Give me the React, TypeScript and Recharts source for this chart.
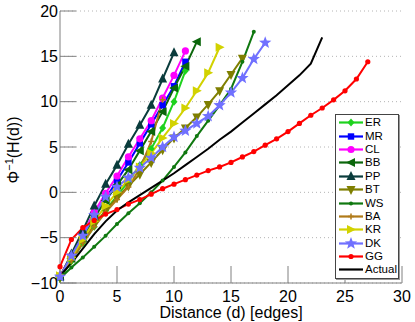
import { LineChart, Line, XAxis, YAxis, CartesianGrid, Legend } from 'recharts'

const FONT = '"Liberation Sans", Arial, sans-serif'
const AXIS_COLOR = '#808080'

const distance = [0, 1, 2, 3, 4, 5, 6, 7, 8, 9, 10, 11, 12, 13, 14, 15, 16, 17, 18, 19, 20, 21, 22, 23, 24, 25, 26, 27]
const xTicks = [0, 5, 10, 15, 20, 25, 30]
const yTicks = [-10, -5, 0, 5, 10, 15, 20]

const ER = [-9.5, -7.6, -5.6, -3.8, -2.0, -0.4, 1.2, 3.0, 4.8, 7.1, 10.0, 13.4]
const MR = [-9.3, -7.2, -5.0, -2.8, -0.7, 1.3, 3.3, 5.4, 7.5, 9.6, 11.7, 14.4]
const CL = [-9.2, -7.0, -4.6, -2.2, -0.1, 1.8, 3.9, 5.9, 7.9, 10.4, 12.9, 15.6]
const BB = [-9.3, -7.3, -5.0, -2.8, -0.9, 0.8, 2.5, 4.6, 6.7, 8.9, 11.5, 13.9, 16.6]
const PP = [-9.3, -6.8, -4.2, -1.5, 0.9, 3.0, 5.3, 7.4, 9.6, 12.5, 15.4]
const BT = [-9.4, -7.4, -5.4, -3.6, -2.0, -0.6, 0.7, 2.0, 3.3, 4.7, 6.0, 7.1, 8.3, 9.7, 11.2, 13.0, 14.8]
const WS = [-9.5, -8.3, -7.2, -6.0, -4.8, -3.5, -2.3, -1.2, 0.0, 1.3, 2.8, 4.4, 6.2, 7.9, 9.6, 11.4, 14.4, 17.7]
const BA = [-9.3, -7.5, -5.6, -3.8, -2.2, -0.8, 0.6, 2.6, 5.6, 10.2]
const KR = [-9.2, -7.2, -5.2, -3.2, -1.5, 0.0, 1.4, 2.8, 4.3, 6.0, 7.6, 9.3, 11.2, 13.2, 16.0]
const DK = [-9.3, -7.0, -4.8, -2.5, -0.5, 0.6, 1.6, 2.7, 3.8, 5.0, 6.1, 6.8, 7.6, 8.4, 9.6, 11.0, 12.6, 14.7, 16.5]
const GG = [-8.2, -5.2, -3.9, -3.1, -2.4, -1.9, -1.3, -0.8, -0.2, 0.4, 0.9, 1.4, 1.9, 2.4, 2.8, 3.3, 3.9, 4.5, 5.2, 5.9, 6.7, 7.6, 8.5, 9.3, 10.2, 11.2, 12.5, 14.4]
const Actual = [-9.2, -7.8, -6.2, -4.6, -3.2, -2.0, -1.1, -0.3, 0.5, 1.3, 2.1, 3.0, 3.9, 4.8, 5.8, 6.7, 7.7, 8.7, 9.7, 10.7, 11.8, 12.9, 14.2, 17.1]

type Shape = 'diamond' | 'square' | 'circle' | 'triLeft' | 'triUp' | 'triDown' | 'dot' | 'plus' | 'triRight' | 'star' | 'smallDot' | 'none'

const SERIES: { name: string; values: number[]; color: string; shape: Shape }[] = [
  { name: 'ER', values: ER, color: '#1ed21e', shape: 'diamond' },
  { name: 'MR', values: MR, color: '#0000ff', shape: 'square' },
  { name: 'CL', values: CL, color: '#ff00ff', shape: 'circle' },
  { name: 'BB', values: BB, color: '#0b660b', shape: 'triLeft' },
  { name: 'PP', values: PP, color: '#0a3c3c', shape: 'triUp' },
  { name: 'BT', values: BT, color: '#7f7f00', shape: 'triDown' },
  { name: 'WS', values: WS, color: '#107810', shape: 'smallDot' },
  { name: 'BA', values: BA, color: '#b07a18', shape: 'plus' },
  { name: 'KR', values: KR, color: '#d2d200', shape: 'triRight' },
  { name: 'DK', values: DK, color: '#7070ff', shape: 'star' },
  { name: 'GG', values: GG, color: '#ff0000', shape: 'dot' },
  { name: 'Actual', values: Actual, color: '#000000', shape: 'none' },
]

const tableData = distance.map((d, i) => {
  const row: Record<string, number | undefined> = { x: d }
  SERIES.forEach((s) => {
    row[s.name] = s.values[i]
  })
  return row
})

const fmtTick = (v: number) => String(v).replace('-', '\u2212')

function starPoints(cx: number, cy: number, r: number) {
  const pts: string[] = []
  for (let k = 0; k < 10; k++) {
    const rad = k % 2 === 0 ? r : r * 0.42
    const a = -Math.PI / 2 + (k * Math.PI) / 5
    pts.push(`${cx + rad * Math.cos(a)},${cy + rad * Math.sin(a)}`)
  }
  return pts.join(' ')
}

function Marker({ shape, color, cx, cy }: { shape: Shape; color: string; cx: number; cy: number }) {
  switch (shape) {
    case 'diamond':
      return <polygon points={`${cx},${cy - 4} ${cx + 3.5},${cy} ${cx},${cy + 4} ${cx - 3.5},${cy}`} fill={color} />
    case 'square':
      return <rect x={cx - 3.2} y={cy - 3.2} width={6.4} height={6.4} fill={color} />
    case 'circle':
      return <circle cx={cx} cy={cy} r={3.6} fill={color} />
    case 'triLeft':
      return <polygon points={`${cx - 5},${cy} ${cx + 4},${cy - 4.5} ${cx + 4},${cy + 4.5}`} fill={color} />
    case 'triUp':
      return <polygon points={`${cx},${cy - 5.5} ${cx + 4.5},${cy + 3.5} ${cx - 4.5},${cy + 3.5}`} fill={color} />
    case 'triDown':
      return <polygon points={`${cx},${cy + 5.5} ${cx + 4.5},${cy - 3.5} ${cx - 4.5},${cy - 3.5}`} fill={color} />
    case 'triRight':
      return <polygon points={`${cx + 5},${cy} ${cx - 4},${cy - 4.5} ${cx - 4},${cy + 4.5}`} fill={color} />
    case 'smallDot':
      return <circle cx={cx} cy={cy} r={2} fill={color} />
    case 'dot':
      return <circle cx={cx} cy={cy} r={2.6} fill={color} />
    case 'plus':
      return (
        <path d={`M${cx - 3},${cy}H${cx + 3}M${cx},${cy - 3}V${cy + 3}`} stroke={color} strokeWidth={1.5} />
      )
    case 'star':
      return <polygon points={starPoints(cx, cy, 6.5)} fill={color} />
    default:
      return null
  }
}

function makeDot(shape: Shape, color: string) {
  return (props: any) => {
    const { cx, cy, index } = props
    if (cx == null || cy == null || props.value == null) return <g key={index} />
    return (
      <g key={index}>
        <Marker shape={shape} color={color} cx={cx} cy={cy} />
      </g>
    )
  }
}

function LegendBox() {
  return (
    <div
      style={{
        width: 62,
        height: 162,
        border: '1px solid #444',
        background: '#fff',
        paddingTop: 1,
        fontFamily: FONT,
        boxShadow: '1px 1px 0 #999',
      }}
    >
      {SERIES.map((s) => (
        <div key={s.name} style={{ display: 'flex', alignItems: 'center', height: 13.4 }}>
          <svg width={29} height={13} style={{ display: 'block' }}>
            <line x1={3} x2={27} y1={6.5} y2={6.5} stroke={s.color} strokeWidth={2.2} />
            <Marker shape={s.shape} color={s.color} cx={15} cy={6.5} />
          </svg>
          <span style={{ fontSize: 11.5, lineHeight: '13px', color: '#000' }}>{s.name}</span>
        </div>
      ))}
    </div>
  )
}

function YLabel(props: any) {
  const vb = props.viewBox || { x: 0, y: 11, width: 60, height: 272 }
  const x = vb.x + 19
  const y = vb.y + vb.height / 2 + 3
  return (
    <text
      x={x}
      y={y}
      transform={`rotate(-90, ${x}, ${y})`}
      textAnchor="middle"
      fontSize={16}
      fontFamily={FONT}
      fill="#000"
    >
      Φ<tspan dy={-6} fontSize={11}>−1</tspan>
      <tspan dy={6}>(H(d))</tspan>
    </text>
  )
}

function XLabel(props: any) {
  const vb = props.viewBox || { x: 60, y: 283, width: 342, height: 39 }
  return (
    <text x={vb.x + vb.width / 2} y={318} textAnchor="middle" fontSize={16} fontFamily={FONT} fill="#000">
      Distance (d) [edges]
    </text>
  )
}

export default function App() {
  return (
    <div style={{ position: 'absolute', left: 0, top: 0, width: 415, height: 322, background: '#fff' }}>
      <LineChart
        width={415}
        height={322}
        data={tableData}
        margin={{ top: 11, right: 13, left: 0, bottom: 0 }}
        style={{ fontFamily: FONT }}
      >
        <CartesianGrid vertical={false} stroke="#b4b4b4" strokeDasharray="1 3" />
        <XAxis
          type="number"
          dataKey="x"
          domain={[0, 30]}
          ticks={xTicks}
          height={39}
          stroke={AXIS_COLOR}
          tickSize={-17}
          tickMargin={25}
          tick={{ fill: '#000', fontSize: 16, fontFamily: FONT }}
          label={{ content: XLabel }}
        />
        <YAxis
          type="number"
          domain={[-10, 20]}
          ticks={yTicks}
          width={60}
          stroke={AXIS_COLOR}
          tickSize={-16}
          tickMargin={18}
          tickFormatter={fmtTick}
          tick={{ fill: '#000', fontSize: 16, fontFamily: FONT }}
          label={{ content: YLabel }}
        />
        {SERIES.map((s) => (
          <Line
            key={s.name}
            type="linear"
            dataKey={s.name}
            stroke={s.color}
            strokeWidth={2}
            dot={s.shape === 'none' ? false : makeDot(s.shape, s.color)}
            activeDot={false}
            isAnimationActive={false}
          />
        ))}
        <Legend
          content={<LegendBox />}
          layout="horizontal"
          verticalAlign="middle"
          align="center"
          wrapperStyle={{ position: 'absolute', left: 335, top: 114, width: 64, height: 164 }}
        />
      </LineChart>
    </div>
  )
}
